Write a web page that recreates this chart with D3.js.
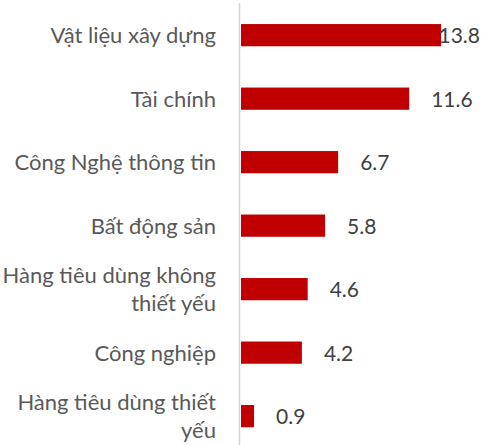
<!DOCTYPE html>
<html>
<head>
<meta charset="utf-8">
<script src="https://cdn.jsdelivr.net/npm/d3@7"></script>
<style>
  html, body { margin: 0; padding: 0; background: #fff; }
  svg { display: block; }
</style>
</head>
<body>
<div id="chart"></div>
<script>
// categories, top to bottom
const categories = [
    "Vật liệu xây dựng",
    "Tài chính",
    "Công Nghệ thông tin",
    "Bất động sản",
    "Hàng tiêu dùng không thiết yếu",
    "Công nghiệp",
    "Hàng tiêu dùng thiết yếu"
];
const values = [13.8, 11.6, 6.7, 5.8, 4.6, 4.2, 0.9];

const W = 481, H = 445;
const FONT = "Lato, Carlito, Calibri, sans-serif";
const TEXT = "#595959";

const svg = d3.select("#chart").append("svg")
    .attr("width", W).attr("height", H)
    .attr("viewBox", `0 0 ${W} ${H}`);

const x = d3.scaleLinear().domain([0, 14]).range([241, 444]);
const y = d3.scaleBand().domain(categories)
    .range([5, 446.3]).paddingInner(0.65).paddingOuter(0.3);

// vertical category axis line
svg.append("line")
    .attr("x1", 239.5).attr("x2", 239.5)
    .attr("y1", 3).attr("y2", H)
    .attr("stroke", "#d4d4d4").attr("stroke-width", 1.5);

// bars
svg.append("g").selectAll("rect")
    .data(values)
    .join("rect")
    .attr("x", x(0))
    .attr("y", (d, i) => y(categories[i]))
    .attr("width", d => x(d) - x(0))
    .attr("height", y.bandwidth())
    .attr("fill", "#c00000");

// value labels (kept inside the plot on the right edge)
const vals = svg.append("g").selectAll("text")
    .data(values)
    .join("text")
    .attr("y", (d, i) => y(categories[i]) + y.bandwidth() / 2 + 8)
    .attr("fill", "#404040")
    .style("font-family", FONT)
    .style("font-size", "21px")
    .text(d => d.toFixed(1));
vals.each(function(d) {
    const w = this.getComputedTextLength();
    d3.select(this).attr("x", Math.min(x(d) + 22, W - w - 1));
});

// category labels, wrapped to width
const LABEL_RIGHT = 216, WRAP = 222, LINE_H = 27.7;
const labels = svg.append("g").selectAll("text")
    .data(categories)
    .join("text")
    .attr("text-anchor", "end")
    .attr("fill", TEXT)
    .style("font-family", FONT)
    .style("font-size", "22px");

labels.each(function(name) {
    const t = d3.select(this);
    const words = name.split(" ");
    const lines = [];
    let cur = [];
    const probe = t.append("tspan");
    for (const w of words) {
        const test = cur.concat(w).join(" ");
        probe.text(test);
        if (probe.node().getComputedTextLength() > WRAP && cur.length) {
            lines.push(cur.join(" "));
            cur = [w];
        } else cur.push(w);
    }
    lines.push(cur.join(" "));
    probe.remove();
    const cy = y(name) + y.bandwidth() / 2 + 8 - (lines.length - 1) * LINE_H / 2;
    lines.forEach((ln, k) => {
        t.append("tspan")
            .attr("x", LABEL_RIGHT)
            .attr("y", cy + k * LINE_H)
            .text(ln);
    });
});
</script>
</body>
</html>
